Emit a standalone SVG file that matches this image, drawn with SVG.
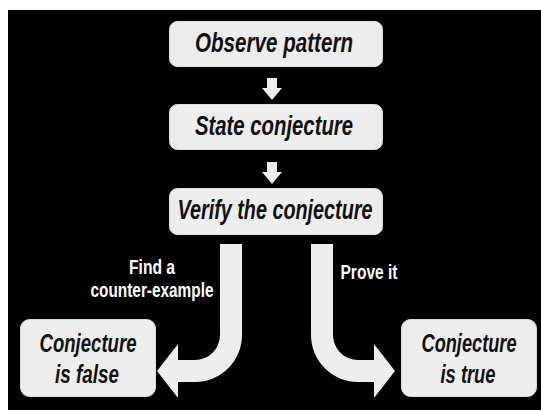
<svg xmlns="http://www.w3.org/2000/svg" width="541" height="410" viewBox="0 0 541 410">
<style>
.box{fill:#ededed;stroke:#dcdcdc;stroke-width:1}
.t{font-family:"Liberation Sans",Arial,sans-serif;font-weight:bold;font-style:italic;fill:#111;text-anchor:middle}
.big{font-size:28px}
.mid{font-size:26px}
.lbl{font-family:"Liberation Sans",Arial,sans-serif;font-weight:bold;font-size:20px;fill:#fff;text-anchor:middle}
.arr{fill:#ededed}
</style>
<rect x="0" y="0" width="541" height="410" fill="#fff"/>
<rect x="8" y="10" width="533" height="400" fill="#000"/>
<g id="connectors">
<path class="arr" d="M267,78 L277,78 L277,88 L282,88 L272,100 L262,88 L267,88 Z"/>
<path class="arr" d="M267,162 L277,162 L277,172 L282,172 L272,184 L262,172 L267,172 Z"/>
<path class="arr" d="M220,244 L242,244 L242,335 A47,47 0 0 1 195,382 L178,382 L178,398 L157,371 L178,344 L178,360 L195,360 A25,25 0 0 0 220,335 Z"/>
<path class="arr" d="M311,244 L333,244 L333,335 A25,25 0 0 0 358,360 L374,360 L374,344 L395,371 L374,398 L374,382 L358,382 A47,47 0 0 1 311,335 Z"/>
<text class="lbl" x="152" y="274" textLength="46" lengthAdjust="spacingAndGlyphs">Find a</text>
<text class="lbl" x="152" y="297" textLength="123" lengthAdjust="spacingAndGlyphs">counter-example</text>
<text class="lbl" x="369" y="279" textLength="57" lengthAdjust="spacingAndGlyphs">Prove it</text>
</g>
<g id="observe">
<rect class="box" x="169.5" y="21.5" width="213" height="45" rx="8"/>
<text class="t big" x="274" y="52" textLength="158" lengthAdjust="spacingAndGlyphs">Observe pattern</text>
</g>
<g id="state">
<rect class="box" x="169.5" y="104.5" width="213" height="45" rx="8"/>
<text class="t big" x="274" y="135" textLength="158" lengthAdjust="spacingAndGlyphs">State conjecture</text>
</g>
<g id="verify">
<rect class="box" x="169.5" y="188.5" width="213" height="46" rx="8"/>
<text class="t big" x="275" y="219" textLength="195" lengthAdjust="spacingAndGlyphs">Verify the conjecture</text>
</g>
<g id="false">
<rect class="box" x="20.5" y="319.5" width="135" height="77" rx="9"/>
<text class="t mid" x="88" y="352" textLength="97" lengthAdjust="spacingAndGlyphs">Conjecture</text>
<text class="t mid" x="87" y="383" textLength="64" lengthAdjust="spacingAndGlyphs">is false</text>
</g>
<g id="true">
<rect class="box" x="401.5" y="319.5" width="135" height="77" rx="9"/>
<text class="t mid" x="469" y="352" textLength="95" lengthAdjust="spacingAndGlyphs">Conjecture</text>
<text class="t mid" x="468" y="383" textLength="55" lengthAdjust="spacingAndGlyphs">is true</text>
</g>
</svg>
